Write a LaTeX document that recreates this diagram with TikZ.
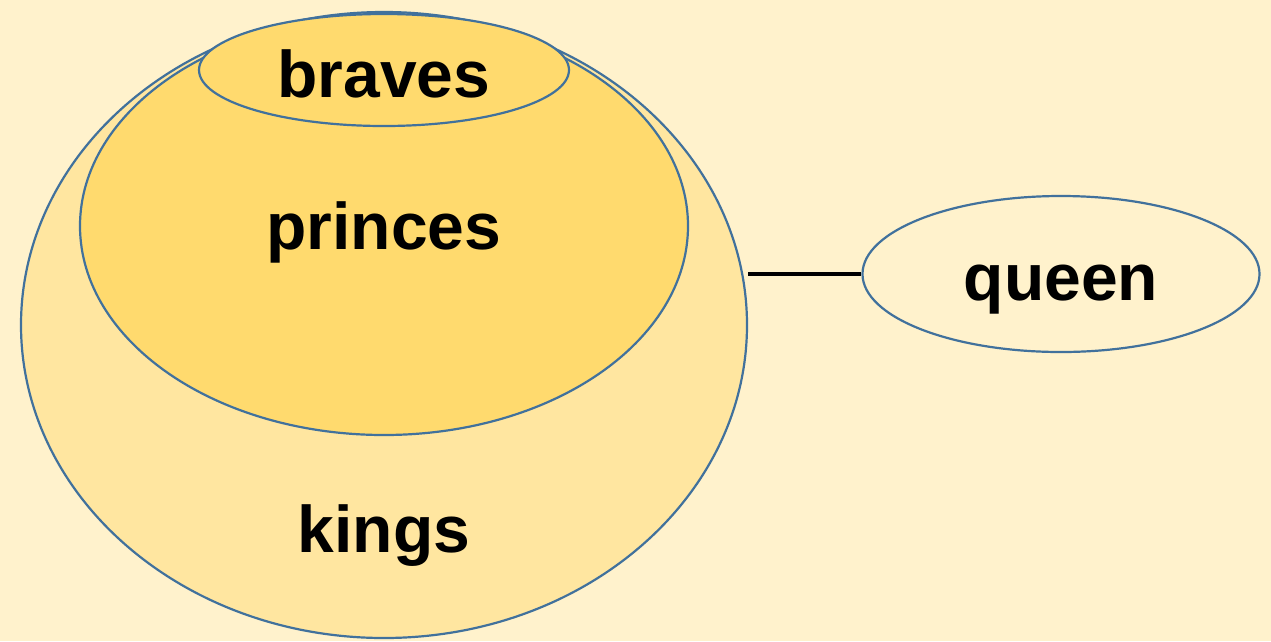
\documentclass[tikz,border=0pt]{standalone}
\usepackage{fontspec}
\setmainfont{Liberation Sans}
\usetikzlibrary{shapes.geometric}
\definecolor{bgcream}{RGB}{255,242,204}
\definecolor{kingfill}{RGB}{255,230,160}
\definecolor{princefill}{RGB}{255,218,110}
\definecolor{rim}{RGB}{65,113,156}
\tikzset{
  setblob/.style={ellipse, draw=rim, line width=2.2pt, inner sep=0pt},
  setname/.style={anchor=base, inner sep=0pt, font=\fontsize{66}{66}\selectfont\bfseries},
}
\begin{document}
\begin{tikzpicture}[x=1pt, y=-1pt]
  \fill[bgcream] (0,0) rectangle (1271,641);
  \useasboundingbox (0,0) rectangle (1271,641);
  % nested sets
  \node[setblob, fill=kingfill, minimum width=726pt, minimum height=626pt] (kings) at (384,325) {};
  \node[setblob, fill=princefill, minimum width=608pt, minimum height=418pt] (princes) at (384,226) {};
  \node[setblob, fill=princefill, minimum width=370pt, minimum height=112pt] (braves) at (384,70) {};
  % separate set
  \node[setblob, fill=bgcream, minimum width=397pt, minimum height=156pt] (queen) at (1061,274) {};
  % labels
  \node[setname] (lbraves) at (384,97) {braves};
  \node[setname] (lprinces) at (384,249) {princes};
  \node[setname] (lkings) at (384,552) {kings};
  \node[setname] (lqueen) at (1061,300) {queen};
  % link
  \draw[line width=4pt] (queen.west) -- (queen.west -| kings.east);
\end{tikzpicture}
\end{document}
